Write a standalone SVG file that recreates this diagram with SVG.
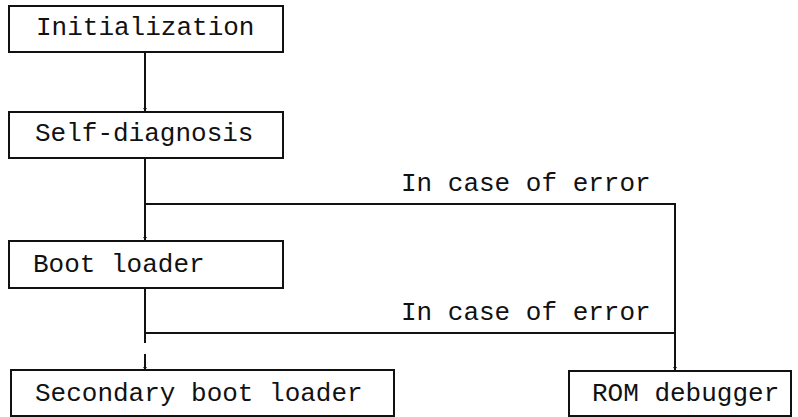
<svg xmlns="http://www.w3.org/2000/svg" width="798" height="417" viewBox="0 0 798 417">
<style>
.box{fill:#fff;stroke:#111;stroke-width:2}
.t{font-family:"Liberation Mono","Courier New",monospace;font-size:26px;fill:#111}
.c{fill:none;stroke:#111;stroke-width:2}
</style>
<defs>
<marker id="ah" viewBox="0 0 6 10" refX="6" refY="5" markerWidth="3" markerHeight="5" orient="auto" markerUnits="userSpaceOnUse">
<path d="M0,1 L6,5 L0,9 z" fill="#111"/>
</marker>
</defs>
<rect width="798" height="417" fill="#fff"/>
<g id="connectors">
<path class="c" d="M145,53 V111" marker-end="url(#ah)"/>
<path class="c" d="M145,158 V240" marker-end="url(#ah)"/>
<path class="c" d="M145,204 H675 V370" marker-end="url(#ah)"/>
<path class="c" d="M145,288 V343"/>
<path class="c" d="M145,354 V370" marker-end="url(#ah)"/>
<path class="c" d="M145,333 H675"/>
<text class="t" x="401" y="191">In case of error</text>
<text class="t" x="401" y="320">In case of error</text>
</g>
<g id="init"><rect class="box" x="9" y="6" width="274" height="46"/><text class="t" x="36" y="35">Initialization</text></g>
<g id="selfdiag"><rect class="box" x="9" y="112" width="274" height="46"/><text class="t" x="35" y="141">Self-diagnosis</text></g>
<g id="bootloader"><rect class="box" x="9" y="241" width="274" height="47"/><text class="t" x="33" y="272">Boot loader</text></g>
<g id="secondary"><rect class="box" x="11" y="370" width="383" height="46"/><text class="t" x="35" y="401">Secondary boot loader</text></g>
<g id="romdebugger"><rect class="box" x="569" y="371" width="222" height="45"/><text class="t" x="592" y="401">ROM debugger</text></g>
</svg>
